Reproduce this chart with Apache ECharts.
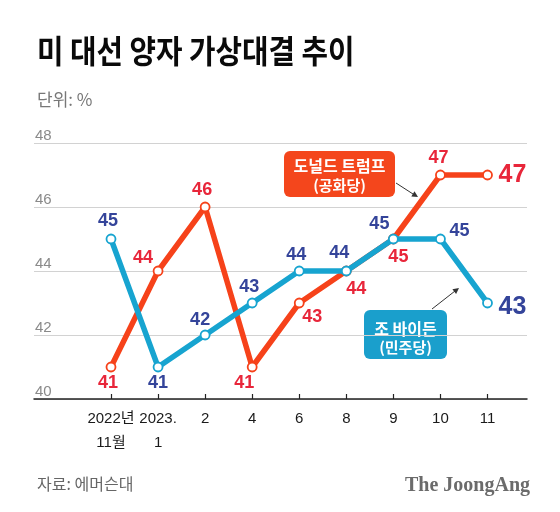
<!DOCTYPE html>
<html>
<head>
<meta charset="utf-8">
<script src="https://cdn.jsdelivr.net/npm/echarts@6/dist/echarts.min.js"></script>
<style>html,body{margin:0;padding:0;background:#fff;}#c{width:560px;height:512px;}</style>
</head>
<body>
<div id="c"></div>
<script>
// ---- data ----
const categories = ['2022년\n11월', '2023.\n1', '2', '4', '6', '8', '9', '10', '11'];
const trumpValues = [41, 44, 46, 41, 43, 44, 45, 47, 47];
const bidenValues = [45, 41, 42, 43, 44, 44, 45, 45, 43];
const yTicks = [40, 42, 44, 46, 48];

// ---- label placement (styling only) ----
const trumpLabelOffsets = [[-3,16],[-15,-13],[-3,-17],[-8,16],[13,14],[10,18],[5,18],[-2,-17],[25,0]];
const bidenLabelOffsets = [[-3,-18],[0,16],[-5,-15],[-3,-16],[-3,-16],[-7,-18],[-14,-15],[19,-8],[25,4]];

const RED_LINE = '#f6421a', RED_TEXT = '#e8263a';
const BLUE_LINE = '#17a4d0', BLUE_TEXT = '#34449a';

function build(values, offsets) {
  return values.map((v, i) => ({
    value: v,
    label: {
      offset: offsets[i],
      fontSize: i === values.length - 1 ? 25 : 18
    }
  }));
}

const chart = echarts.init(document.getElementById('c'), null, {renderer: 'canvas'});
const gridTop = 143, gridBottom = 113;
const option = {
  backgroundColor: '#fff',
  animation: false,
  grid: [
    {left: 34, right: 33, top: gridTop, bottom: gridBottom},
    {left: 111, right: 72.5, top: gridTop, bottom: gridBottom}
  ],
  xAxis: [
    {gridIndex: 0, type: 'value', min: 0, max: 1, axisLine: {show: true, onZero: false, lineStyle: {color: '#222', width: 1.5}},
     axisTick: {show: false}, axisLabel: {show: false}, splitLine: {show: false}},
    {gridIndex: 1, type: 'category', data: categories, boundaryGap: false,
     axisLine: {show: false},
     axisTick: {show: true, inside: true, length: 5, interval: 0, lineStyle: {color: '#222', width: 1.2}},
     axisLabel: {interval: 0, color: '#1a1a1a', fontSize: 15, margin: 8, lineHeight: 24,
       fontFamily: 'Liberation Sans, Noto Sans CJK KR'},
     splitLine: {show: false}}
  ],
  yAxis: [
    {gridIndex: 0, type: 'value', min: 40, max: 48, interval: 2,
     axisLine: {show: false}, axisTick: {show: false},
     axisLabel: {inside: true, margin: 1, verticalAlign: 'bottom', color: '#8a8a8a', fontSize: 15,
       fontFamily: 'Liberation Sans', formatter: v => yTicks.includes(v) ? String(v) : ''},
     splitLine: {show: true, lineStyle: {color: '#d2d2d2', width: 1.2}}},
    {gridIndex: 1, type: 'value', min: 40, max: 48, interval: 2, show: false, splitLine: {show: false}}
  ],
  series: [
    {
      name: '도널드 트럼프', type: 'line', xAxisIndex: 1, yAxisIndex: 1,
      data: build(trumpValues, trumpLabelOffsets),
      lineStyle: {color: RED_LINE, width: 5.5},
      itemStyle: {color: '#fff', borderColor: RED_LINE, borderWidth: 1.8},
      symbol: 'circle', symbolSize: 9, showAllSymbol: true,
      label: {show: true, position: 'inside', color: RED_TEXT, fontWeight: 'bold',
        fontFamily: 'Liberation Sans'},
      z: 2
    },
    {
      name: '조 바이든', type: 'line', xAxisIndex: 1, yAxisIndex: 1,
      data: build(bidenValues, bidenLabelOffsets),
      lineStyle: {color: BLUE_LINE, width: 5.5},
      itemStyle: {color: '#fff', borderColor: BLUE_LINE, borderWidth: 1.8},
      symbol: 'circle', symbolSize: 9, showAllSymbol: true,
      label: {show: true, position: 'inside', color: BLUE_TEXT, fontWeight: 'bold',
        fontFamily: 'Liberation Sans'},
      z: 3
    }
  ],
  graphic: [
    {type: 'text', x: 37, y: 35, scaleX: 0.9, style: {text: '미 대선 양자 가상대결 추이', fill: '#0a0a0a',
      font: 'bold 32px "Noto Sans CJK KR"', textVerticalAlign: 'top'}},
    {type: 'text', x: 37, y: 91, style: {text: '단위: %', fill: '#777',
      font: '17px "Noto Sans CJK KR"', textVerticalAlign: 'top'}},
    {type: 'text', x: 37, y: 484, style: {text: '자료: 에머슨대', fill: '#666',
      font: '16px "Noto Sans CJK KR"', textVerticalAlign: 'middle'}},
    {type: 'text', x: 530, y: 486, style: {text: 'The JoongAng', fill: '#6b6b6b',
      font: 'bold 20px "Liberation Serif"', textAlign: 'right', textVerticalAlign: 'middle'}},
    // Trump annotation
    {type: 'rect', shape: {x: 284, y: 151, width: 111, height: 46, r: 6}, style: {fill: '#f4461c'}},
    {type: 'text', x: 339.5, y: 166, style: {text: '도널드 트럼프', fill: '#fff',
      font: 'bold 16px "Noto Sans CJK KR"', textAlign: 'center', textVerticalAlign: 'middle'}},
    {type: 'text', x: 339.5, y: 185, style: {text: '(공화당)', fill: '#fff',
      font: 'bold 15px "Noto Sans CJK KR"', textAlign: 'center', textVerticalAlign: 'middle'}},
    {type: 'line', shape: {x1: 396, y1: 183, x2: 413, y2: 194}, style: {stroke: '#333', lineWidth: 1}},
    {type: 'polygon', shape: {points: [[418,197],[414.5,191.3],[411.3,196.4]]}, style: {fill: '#333'}},
    // Biden annotation
    {type: 'rect', shape: {x: 364, y: 310, width: 83, height: 49, r: 6}, style: {fill: '#1a9fcc'}},
    {type: 'text', x: 405.5, y: 329, style: {text: '조 바이든', fill: '#fff',
      font: 'bold 16px "Noto Sans CJK KR"', textAlign: 'center', textVerticalAlign: 'middle'}},
    {type: 'text', x: 405.5, y: 347, style: {text: '(민주당)', fill: '#fff',
      font: 'bold 15px "Noto Sans CJK KR"', textAlign: 'center', textVerticalAlign: 'middle'}},
    {type: 'line', shape: {x1: 432, y1: 309, x2: 455, y2: 291}, style: {stroke: '#333', lineWidth: 1}},
    {type: 'polygon', shape: {points: [[459,288],[456.1,294.1],[452.4,289.3]]}, style: {fill: '#333'}}
  ]
};
chart.setOption(option);
</script>
</body>
</html>
